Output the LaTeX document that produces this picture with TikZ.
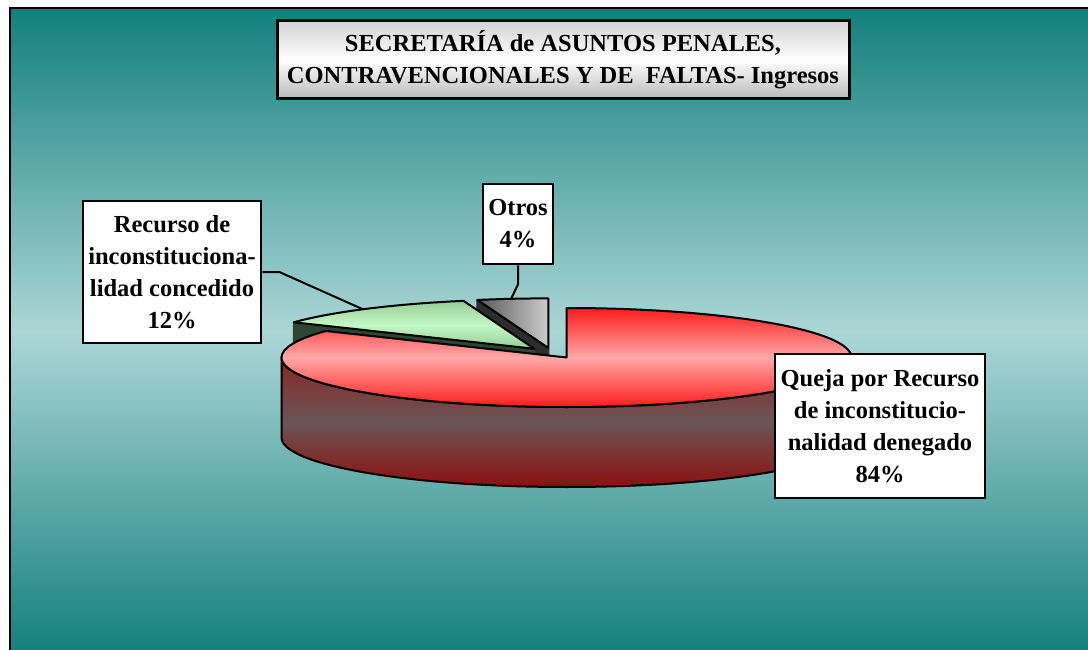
\documentclass[tikz,border=0pt]{standalone}
\usepackage{fontspec}
\setmainfont{Liberation Serif}
\usetikzlibrary{calc}

\definecolor{bgteal}{RGB}{18,127,125}
\definecolor{bglight}{RGB}{172,214,214}
\definecolor{redtop}{RGB}{255,28,28}
\definecolor{redpink}{RGB}{255,168,168}
\definecolor{redsidetop}{RGB}{135,38,38}
\definecolor{redsidemid}{RGB}{108,85,85}
\definecolor{redsidebot}{RGB}{140,16,16}
\definecolor{greenlight}{RGB}{196,248,196}
\definecolor{greendim}{RGB}{150,205,150}
\definecolor{greenside}{RGB}{45,70,50}
\definecolor{graydim}{RGB}{88,88,88}
\definecolor{graypale}{RGB}{205,205,205}
\definecolor{grayside}{RGB}{45,45,45}

\tikzset{
  labelbox/.style={draw=black,line width=2.6pt,fill=white,align=center,
    font=\fontsize{24.5}{32}\selectfont\bfseries,inner sep=0pt},
  titlebox/.style={draw=black,line width=3pt,top color=gray!35,bottom color=gray!55,
    middle color=white,align=center,font=\fontsize{24.5}{32}\selectfont\bfseries,
    minimum width=572pt,minimum height=78pt,inner sep=0pt},
  pieedge/.style={draw=black,line width=2pt,line join=round},
  leader/.style={draw=black,line width=2pt},
  pie/.style={x radius=285,y radius=49.5},
}

\begin{document}
\begin{tikzpicture}[x=1pt,y=1pt]
    % page and frame
    \useasboundingbox (0,0) rectangle (1088,-650);
    \fill [white] (0,0) rectangle (1088,-650);
    \shade [top color=bgteal,bottom color=bgteal,middle color=bglight] (10,-8) rectangle (1094,-656);
    \draw [line width=2.5pt] (1094,-8) -- (10,-8) -- (10,-656);
    % title
    \node [titlebox] (title) at (563,-60) {SECRETARÍA de ASUNTOS PENALES,\\CONTRAVENCIONALES Y DE~~FALTAS- Ingresos};
    % pie: radii 285 and 49.5, depth 80
    \coordinate (cr) at (566.5,-357.5);
    \coordinate (cg) at (548.3,-347.9);
    \coordinate (cv) at (534.4,-348.8);
    % Otros 4%
    \fill [pieedge,grayside] (cg) -- ++(104.4:285 and 49.5) -- ++(0,-80) -- ($(cg)+(0,-80)$) -- cycle;
    \filldraw [pieedge,left color=graydim,right color=graypale] (cg) -- ++(90:285 and 49.5)
        arc [pie,start angle=90,end angle=104.4] -- cycle;
    % concedido 12%
    \fill [pieedge,greenside] (cv) -- ++(147.6:285 and 49.5) -- ++(0,-80) -- ($(cv)+(0,-80)$) -- cycle;
    \filldraw [pieedge,top color=greendim,bottom color=greendim,middle color=greenlight] (cv) -- ++(104.4:285 and 49.5)
        arc [pie,start angle=104.4,end angle=147.6] -- cycle;
    % denegado 84%
    \filldraw [pieedge,top color=redsidetop,bottom color=redsidebot,middle color=redsidemid] ($(cr)+(-285,0)$) -- ++(0,-80)
        arc [pie,start angle=180,end angle=360] -- ++(0,80)
        arc [pie,start angle=0,end angle=-180] -- cycle;
    \filldraw [pieedge,top color=redtop,bottom color=redtop,middle color=redpink] (cr) -- ++(90:285 and 49.5)
        arc [pie,start angle=90,end angle=-212.4] -- cycle;
    % labels
    \coordinate (vtip) at ($(cv)+(127:285 and 49.5)$);
    \coordinate (gtip) at ($(cg)+(97.5:285 and 49.5)$);
    \node [labelbox,minimum width=178pt,minimum height=142pt] (lblgreen) at (172,-272) {Recurso de\\inconstituciona-\\lidad concedido\\12\%};
    \node [labelbox,minimum width=70pt,minimum height=80pt] (lblgray) at (518,-224) {Otros\\4\%};
    \node [labelbox,minimum width=210pt,minimum height=144pt] (lblred) at (880,-426) {Queja por Recurso\\de inconstitucio-\\nalidad denegado\\84\%};
    \draw [leader] (lblgreen.east) -- ++(17,0) -- (vtip);
    \draw [leader] (lblgray.south) -- ++(0,-19) -- (gtip);
\end{tikzpicture}
\end{document}
